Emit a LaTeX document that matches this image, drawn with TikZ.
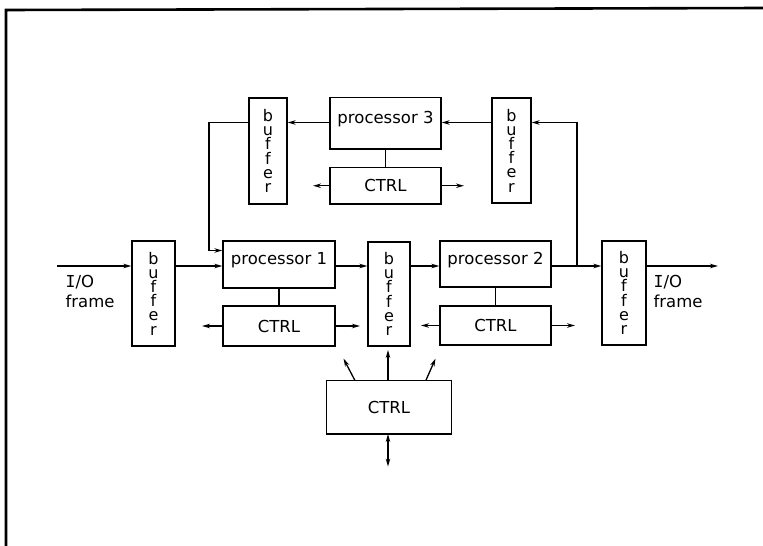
\documentclass[tikz,border=0pt]{standalone}
\usepackage{fontspec}
\setmainfont{DejaVu Sans}
\newfontfamily\serifI{DejaVu Sans Mono}
\usetikzlibrary{arrows.meta}
\begin{document}
\begin{tikzpicture}[x=1pt,y=-1pt,
  line width=1.3pt,
  font=\fontsize{16.5}{14}\selectfont,
  box/.style={draw, inner sep=0pt, line width=1.3pt},
  procbox/.style={box, text height=12pt, text depth=12pt},
  bufbox/.style={box, align=center, font=\fontsize{16}{14.2}\selectfont},
  arr/.style={-{Stealth[length=8pt,width=4.5pt]}},
  lbl/.style={anchor=base west, inner sep=0pt}]
\useasboundingbox (0,0) rectangle (763,546);
% frame
\draw[line width=2.6pt] (6,546) -- (6,10) -- (763,8);
% helper coordinates
\coordinate (ymain) at (0,266);
\coordinate (ytop) at (0,122.5);
\coordinate (yloop) at (0,250.5);
% top row
\node[bufbox, minimum width=38, minimum height=106] (bTL) at (268,151) {b\\u\\f\\f\\e\\r};
\node[procbox, minimum width=111, minimum height=51.5] (p3) at (385.5,123.25) {processor 3};
\node[box, minimum width=111, minimum height=36.5] (c3) at (385.5,185.75) {CTRL};
\node[bufbox, minimum width=39, minimum height=105] (bTR) at (511.5,150.5) {b\\u\\f\\f\\e\\r};
% main row
\node[bufbox, minimum width=43, minimum height=105] (bL) at (153.5,293.5) {b\\u\\f\\f\\e\\r};
\node[procbox, minimum width=112, minimum height=47] (p1) at (279,264.5) {processor 1};
\node[box, minimum width=112, minimum height=40] (c1) at (279,326) {CTRL};
\node[bufbox, minimum width=42, minimum height=104] (bM) at (389,294) {b\\u\\f\\f\\e\\r};
\node[procbox, minimum width=111, minimum height=46] (p2) at (495.5,264) {processor 2};
\node[box, minimum width=111, minimum height=39] (c2) at (495.5,325.5) {CTRL};
\node[bufbox, minimum width=44, minimum height=104] (bR) at (624,293) {b\\u\\f\\f\\e\\r};
% bottom control
\node[box, minimum width=125, minimum height=53.4] (cB) at (389,407.3) {CTRL};
% labels
\node[lbl] (io1) at (65,287) {{\serifI I}/O};
\node[lbl] (fr1) at (65,307) {frame};
\node[lbl] (io2) at (653,287) {{\serifI I}/O};
\node[lbl] (fr2) at (653,307) {frame};
% main data path
\coordinate (in) at (57,266);
\coordinate (out) at (718,266);
\coordinate (j) at (577,266);
\draw[arr] (in) -- (bL.west |- ymain);
\draw[arr] (bL.east |- ymain) -- (p1.west |- ymain);
\draw[arr] (p1.east |- ymain) -- (bM.west |- ymain);
\draw[arr] (bM.east |- ymain) -- (p2.west |- ymain);
\draw (p2.east |- ymain) -- (j);
\draw[arr] (j) -- (bR.west |- ymain);
\draw[arr] (bR.east |- ymain) -- (out);
% feedback loop over processor 3
\draw[arr] (j) |- (bTR.east |- ytop);
\draw[arr] (bTR.west |- ytop) -- (p3.east |- ytop);
\draw[arr] (p3.west |- ytop) -- (bTL.east |- ytop);
\coordinate (lc) at (209,122.5);
\draw[arr] (bTL.west |- ytop) -- (lc) |- (p1.west |- yloop);
% processor to ctrl links
\draw (p3.south) -- (c3.north);
\draw (p1.south) -- (c1.north);
\draw (p2.south) -- (c2.north);
% ctrl side arrows
\coordinate (c3l) at (313,185.75);
\coordinate (c3r) at (464,185.75);
\coordinate (c1l) at (202,326);
\coordinate (c1r) at (360,326);
\coordinate (c2l) at (421,325.5);
\coordinate (c2r) at (575,325.5);
\draw[arr] (c3.west) -- (c3l);
\draw[arr] (c3.east) -- (c3r);
\draw[arr] (c1.west) -- (c1l);
\draw[arr] (c1.east) -- (c1r);
\draw[arr] (c2.west) -- (c2l);
\draw[arr] (c2.east) -- (c2r);
% bottom ctrl arrows
\coordinate (bl1) at (355,380.6);
\coordinate (bl2) at (343.5,358.6);
\coordinate (bm1) at (388,380.6);
\coordinate (bm2) at (388,350);
\coordinate (br1) at (425.8,380.6);
\coordinate (br2) at (435.5,358.6);
\coordinate (bd1) at (388,434);
\coordinate (bd2) at (388,466.6);
\draw[arr] (bl1) -- (bl2);
\draw[arr] (bm1) -- (bm2);
\draw[arr] (br1) -- (br2);
\draw[{Stealth[length=8pt,width=4.5pt]}-{Stealth[length=8pt,width=4.5pt]}] (bd1) -- (bd2);
\end{tikzpicture}
\end{document}
